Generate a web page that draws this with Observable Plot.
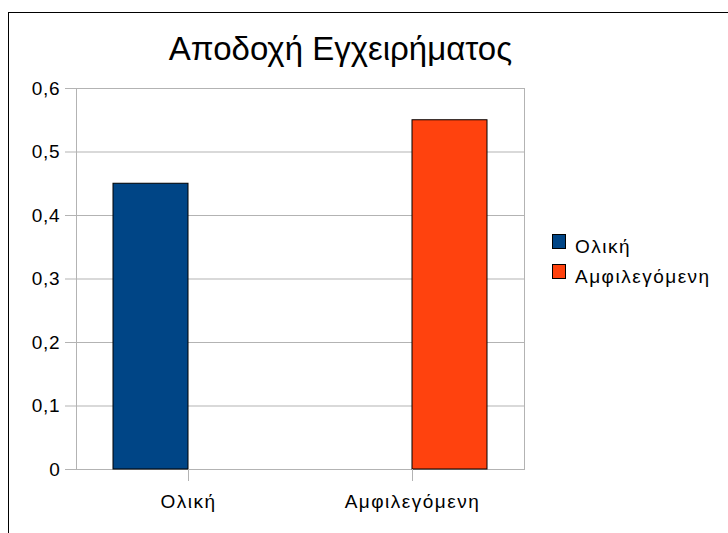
<!DOCTYPE html>
<html>
<head>
<meta charset="utf-8">
<script src="https://cdn.jsdelivr.net/npm/d3@7"></script>
<script src="https://cdn.jsdelivr.net/npm/@observablehq/plot@0.6"></script>
<style>
  body { margin: 0; background: #fff; font-family: "Liberation Sans", Arial, sans-serif; }
  #wrap { position: relative; width: 728px; height: 533px; overflow: hidden; background: #fff; }
  #wrap svg { position: absolute; left: 0; top: 0; }
  #border { position: absolute; left: 8px; top: 12px; width: 740px; height: 540px;
            border-top: 1px solid #000; border-left: 1px solid #000; pointer-events: none; }
  .xax text { letter-spacing: 1.5px; }
  .yax text { letter-spacing: 0.8px; }
</style>
</head>
<body>
<div id="wrap"><div id="border"></div></div>
<script>
const titleText = "Αποδοχή Εγχειρήματος";
const categories = ["Ολική", "Αμφιλεγόμενη"];
const seriesNames = ["Ολική", "Αμφιλεγόμενη"];
const seriesColors = ["#004586", "#ff420e"];
const olikiValues = [0.45, 0];
const amfiValues = [0, 0.55];
const yTicks = [0, 0.1, 0.2, 0.3, 0.4, 0.5, 0.6];

const olikiData = categories.map((c, i) => ({category: c, value: olikiValues[i]})).filter(d => d.value > 0);
const amfiData = categories.map((c, i) => ({category: c, value: amfiValues[i]})).filter(d => d.value > 0);

const fmt = d => d === 0 ? "0" : d3.format(".1f")(d).replace(".", ",");

const svg = Plot.plot({
  width: 728,
  height: 533,
  marginLeft: 76,
  marginRight: 204,
  marginTop: 88,
  marginBottom: 64,
  style: {fontFamily: "Liberation Sans, Arial, sans-serif", fontSize: "19px", background: "transparent", color: "black", overflow: "visible"},
  x: {type: "band", domain: categories, padding: 0},
  y: {domain: [0, 0.6]},
  marks: [
    Plot.ruleY(yTicks, {stroke: "#b3b3b3"}),
    Plot.frame({stroke: "#b3b3b3"}),
    Plot.barY(olikiData, {x: "category", y: "value", fill: seriesColors[0], stroke: "black", insetLeft: 37, insetRight: 112}),
    Plot.barY(amfiData, {x: "category", y: "value", fill: seriesColors[1], stroke: "black", insetLeft: 112, insetRight: 37}),
    Plot.axisY({ticks: yTicks, tickFormat: fmt, tickSize: 11, tickPadding: 5, stroke: "#b3b3b3", fill: "black", label: null, className: "yax"}),
    Plot.axisX({tickSize: 12, tickPadding: 13, stroke: "#b3b3b3", fill: "black", label: null, className: "xax"})
  ]
});

const s = d3.select(svg);
s.append("text")
  .attr("x", 340.5).attr("y", 60)
  .attr("text-anchor", "middle")
  .attr("font-size", 33)
  .attr("fill", "black")
  .text(titleText);

const leg = s.append("g").attr("text-anchor", "start");
seriesNames.forEach((name, i) => {
  leg.append("rect")
    .attr("x", 552.5).attr("y", 234.5 + i * 30)
    .attr("width", 13).attr("height", 14)
    .attr("fill", seriesColors[i]).attr("stroke", "black");
  leg.append("text")
    .attr("x", 575).attr("y", 253 + i * 29.5)
    .attr("text-anchor", "start")
    .attr("font-size", 19)
    .attr("letter-spacing", "1.5px")
    .attr("fill", "black")
    .text(name);
});

document.getElementById("wrap").prepend(svg);
</script>
</body>
</html>
